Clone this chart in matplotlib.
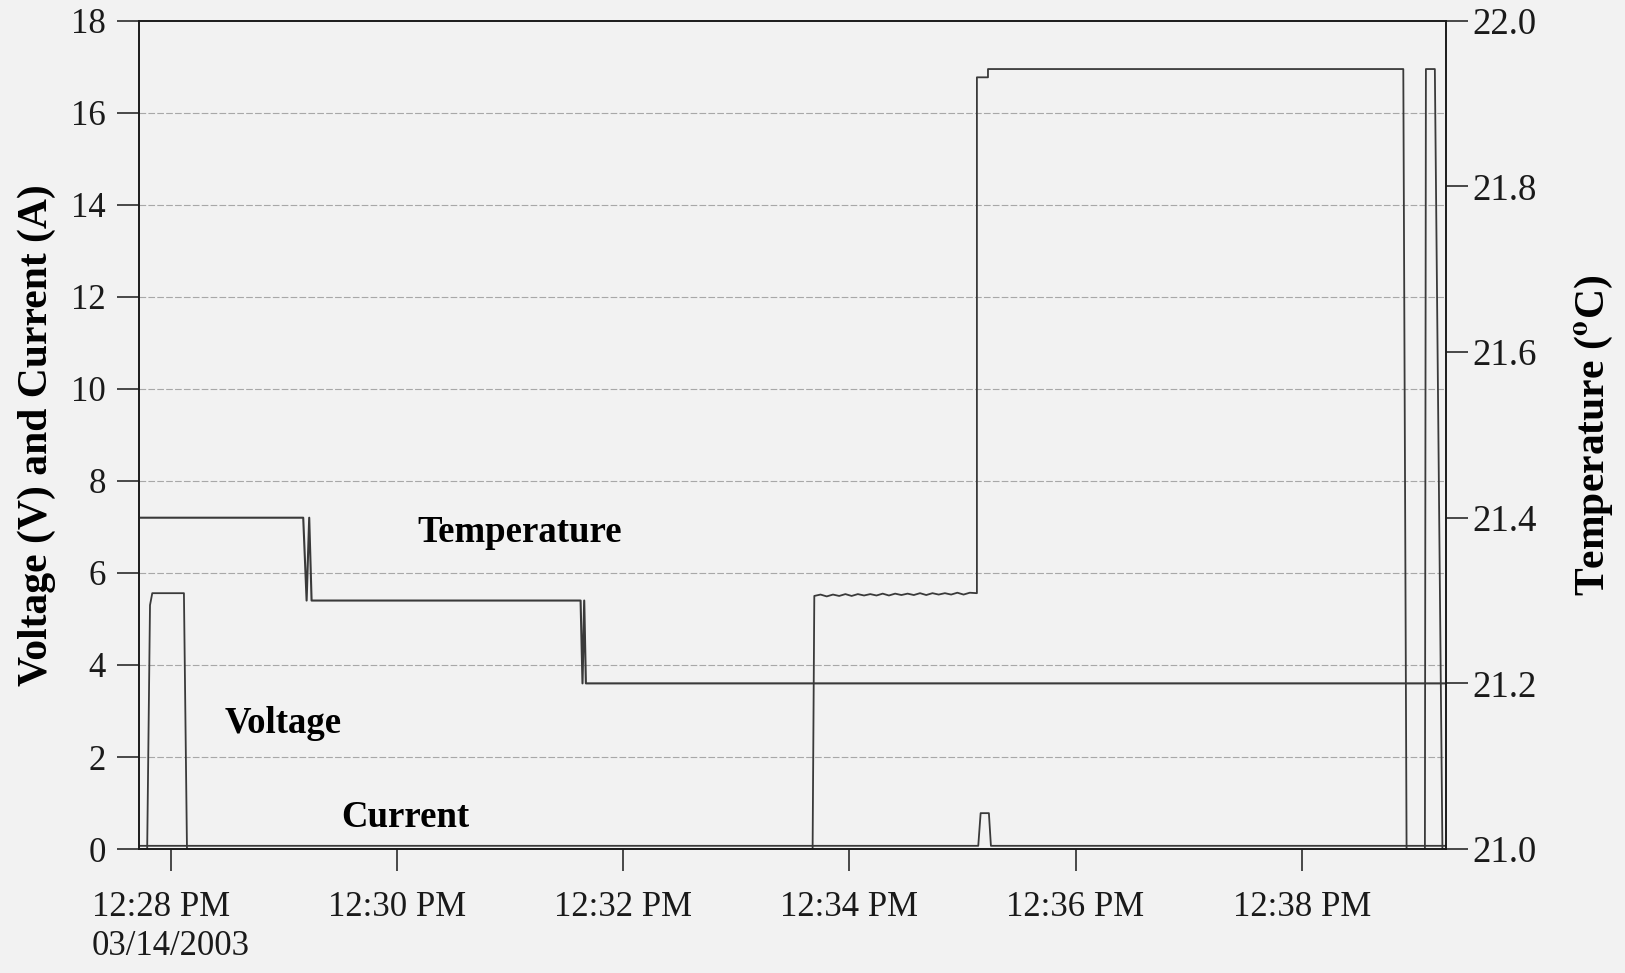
import matplotlib.pyplot as plt
import matplotlib.transforms as mtransforms
from matplotlib.ticker import FixedLocator, FormatStrFormatter

plt.rcParams['font.family'] = ['Liberation Serif', 'DejaVu Serif']
plt.rcParams['mathtext.fontset'] = 'stix'

# time axis: minutes after 12:00 PM
x_ticks = [28, 30, 32, 34, 36, 38]
x_labels = ['12:28 PM\n03/14/2003', '12:30 PM', '12:32 PM', '12:34 PM', '12:36 PM', '12:38 PM']

# voltage (V)
volt_t = [27.720, 27.790, 27.815, 27.835, 28.115, 28.142, 33.675, 33.690,
          33.745, 33.800, 33.855, 33.910, 33.965, 34.020, 34.075, 34.130,
          34.185, 34.240, 34.295, 34.350, 34.405, 34.460, 34.515, 34.570,
          34.625, 34.680, 34.735, 34.790, 34.845, 34.900, 34.955, 35.010,
          35.065, 35.128, 35.128, 35.226, 35.226, 38.899, 38.928, 39.090,
          39.099, 39.178, 39.245, 39.270]
volt_v = [0.0, 0.0, 5.30, 5.56, 5.56, 0.0, 0.0, 5.50,
          5.53, 5.49, 5.53, 5.50, 5.54, 5.50, 5.54, 5.51,
          5.54, 5.51, 5.55, 5.51, 5.55, 5.52, 5.55, 5.52,
          5.56, 5.52, 5.56, 5.53, 5.56, 5.53, 5.57, 5.53,
          5.57, 5.56, 16.77, 16.77, 16.95, 16.95, 0.0, 0.0,
          16.95, 16.95, 0.0, 0.0]

# current (A)
curr_t = [27.720, 35.140, 35.161, 35.234, 35.252, 39.270]
curr_v = [0.07, 0.07, 0.78, 0.78, 0.07, 0.07]

# temperature (deg C)
temp_t = [27.720, 29.170, 29.200, 29.223, 29.244, 31.623, 31.640, 31.655, 31.670, 39.276]
temp_v = [21.4, 21.4, 21.3, 21.4, 21.3, 21.3, 21.2, 21.3, 21.2, 21.2]

bg = '#f2f2f2'
line_c = '#3a3a3a'

fig = plt.figure(figsize=(16.25, 9.73), dpi=100, facecolor=bg)
ax1 = fig.add_axes([0.0857, 0.1274, 0.8041, 0.8513], facecolor=bg)
ax2 = ax1.twinx()

ax1.plot(volt_t, volt_v, color=line_c, lw=1.3)
ax1.plot(curr_t, curr_v, color=line_c, lw=1.3)
ax2.plot(temp_t, temp_v, color=line_c, lw=1.5)

ax1.set_xlim(27.720, 39.276)
ax1.set_ylim(0, 18)
ax2.set_ylim(21.0, 22.0)

ax1.xaxis.set_major_locator(FixedLocator(x_ticks))
ax1.set_xticklabels(x_labels, linespacing=1.25)
first = ax1.get_xticklabels()[0]
first.set_multialignment('left')
first.set_transform(first.get_transform() + mtransforms.ScaledTranslation(7 / 72, 0, fig.dpi_scale_trans))
ax1.set_yticks(range(0, 19, 2))
ax2.set_yticks([21.0, 21.2, 21.4, 21.6, 21.8, 22.0])
ax2.yaxis.set_major_formatter(FormatStrFormatter('%.1f'))

# dashed horizontal grid
for v in range(2, 18, 2):
    ax1.axhline(v, color='#a8a8a8', lw=0.8, ls=(0, (6, 2)), zorder=0)

ax1.tick_params(axis='both', direction='out', length=16, width=1.1, labelsize=25, colors='#1a1a1a')
ax1.tick_params(axis='y', pad=8)
ax1.tick_params(axis='x', pad=14)
ax2.tick_params(axis='y', direction='out', length=16, width=1.1, labelsize=26.5, pad=3, colors='#1a1a1a')

for ax in (ax1, ax2):
    for s in ax.spines.values():
        s.set_color('#1a1a1a')
        s.set_linewidth(1.2)

ax1.set_ylabel('Voltage (V) and Current (A)', fontsize=30, fontweight='bold')
ax1.yaxis.set_label_coords(-0.064, 0.5)
ax2.set_ylabel(r'Temperature ($\mathbf{^{o}}$C)', fontsize=30, fontweight='bold')
ax2.yaxis.set_label_coords(1.097, 0.5)

ax1.text(31.087, 6.67, 'Temperature', fontsize=26.5, fontweight='bold', ha='center', va='baseline')
ax1.text(28.99, 2.52, 'Voltage', fontsize=26.5, fontweight='bold', ha='center', va='baseline')
ax1.text(30.07, 0.48, 'Current', fontsize=26.5, fontweight='bold', ha='center', va='baseline')

fig.savefig('out.png', dpi=100, facecolor=fig.get_facecolor())
